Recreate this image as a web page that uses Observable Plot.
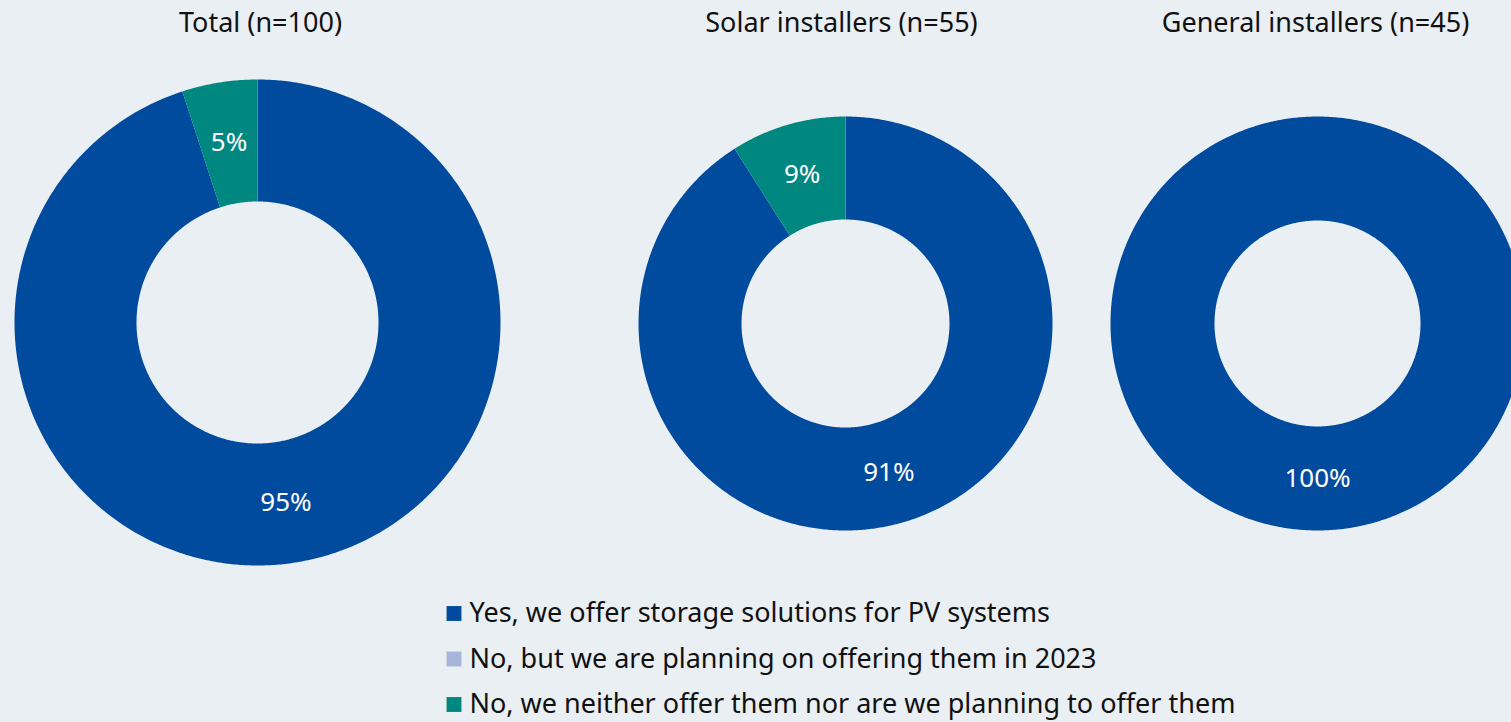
<!DOCTYPE html>
<html>
<head>
<meta charset="utf-8">
<script src="https://cdn.jsdelivr.net/npm/d3@7"></script>
<script src="https://cdn.jsdelivr.net/npm/@observablehq/plot@0.6"></script>
<style>
  html, body { margin: 0; padding: 0; background: #eaeff4; }
  #chart { width: 1511px; height: 722px; overflow: hidden; }
</style>
</head>
<body>
<div id="chart"></div>
<script>
// ---- Data ----
const groups = ["Total (n=100)", "Solar installers (n=55)", "General installers (n=45)"];
const categories = [
  "Yes, we offer storage solutions for PV systems",
  "No, but we are planning on offering them in 2023",
  "No, we neither offer them nor are we planning to offer them"
];
const yesValues = [95, 91, 100];
const planningValues = [0, 0, 0];
const neitherValues = [5, 9, 0];
const colors = ["#004b9e", "#a7b6d8", "#00877f"];

// ---- Layout ----
const W = 1511, H = 722;
const centersX = [257, 845, 1317];
const centersY = [322, 323, 323];
const outerR = [243, 207, 207];
const innerR = [121, 104, 103];
const titleX = [260, 841, 1315];

const series = [yesValues, planningValues, neitherValues];

// Build slice polygons (annular sectors), clockwise from 12 o'clock
const slicePts = [];
const labels = [];
groups.forEach((g, gi) => {
  const vals = series.map(s => s[gi]);
  const total = d3.sum(vals);
  let acc = 0;
  vals.forEach((v, ci) => {
    if (v <= 0) return;
    const a0 = acc / total * 2 * Math.PI;
    acc += v;
    const a1 = acc / total * 2 * Math.PI;
    const id = gi + "-" + ci;
    const n = Math.max(2, Math.ceil((a1 - a0) / (Math.PI / 360)));
    const cx = centersX[gi], cy = centersY[gi], ro = outerR[gi], ri = innerR[gi];
    for (let k = 0; k <= n; k++) {
      const a = a0 + (a1 - a0) * k / n;
      slicePts.push({id, cat: categories[ci], x: cx + ro * Math.sin(a), y: cy - ro * Math.cos(a)});
    }
    for (let k = n; k >= 0; k--) {
      const a = a0 + (a1 - a0) * k / n;
      slicePts.push({id, cat: categories[ci], x: cx + ri * Math.sin(a), y: cy - ri * Math.cos(a)});
    }
    const am = (a0 + a1) / 2, rm = (ro + ri) / 2;
    labels.push({x: cx + rm * Math.sin(am), y: cy - rm * Math.cos(am), text: v + "%"});
  });
});

const titles = groups.map((g, i) => ({x: titleX[i], y: 23, text: g}));
const legendRows = categories.map((c, i) => ({cat: c, y: 613 + i * 45.5}));

const font = "'Noto Sans', 'Open Sans', sans-serif";

const chart = Plot.plot({
  width: W,
  height: H,
  margin: 0,
  style: {background: "#eaeff4", fontFamily: font},
  x: {domain: [0, W], range: [0, W], axis: null},
  y: {domain: [0, H], range: [0, H], axis: null},
  color: {domain: categories, range: colors},
  marks: [
    Plot.line(slicePts, {x: "x", y: "y", z: "id", fill: "cat", stroke: "none"}),
    Plot.text(labels, {x: "x", y: "y", text: "text", fill: "white", fontSize: 26}),
    Plot.text(titles, {x: "x", y: "y", text: "text", fill: "#111", fontSize: 27}),
    Plot.dot(legendRows, {x: 453.5, y: "y", symbol: "square", r: 8.4, fill: "cat", stroke: "none"}),
    Plot.text(legendRows, {x: 469, y: "y", text: "cat", fill: "#111", fontSize: 27, textAnchor: "start"})
  ]
});
document.getElementById("chart").appendChild(chart);
</script>
</body>
</html>
